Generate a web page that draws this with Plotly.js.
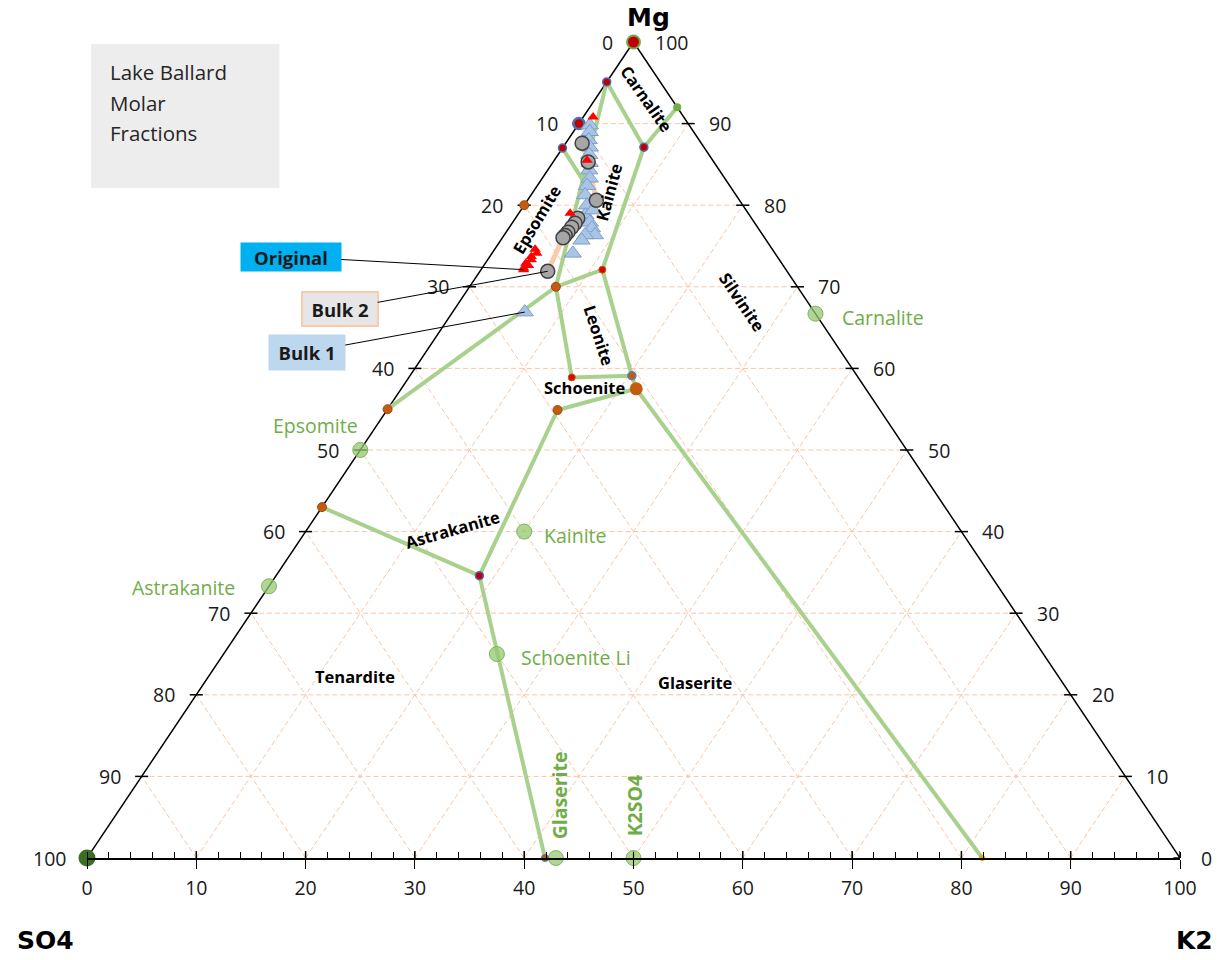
<!DOCTYPE html>
<html><head><meta charset="utf-8">
<script src="https://cdn.plot.ly/plotly-3.0.1.min.js"></script>
<style>html,body{margin:0;padding:0;background:#fff}#chart{width:1223px;height:960px}</style>
</head><body><div id="chart"></div>
<script>
// ---------- DATA (ternary molar %, SO4 = 100 - K2 - Mg) ----------
const axisTicks = [0,10,20,30,40,50,60,70,80,90,100];

// pure salt compositions (green points)
const phaseNames = ["Carnalite","Epsomite","Kainite","Astrakanite","Schoenite Li","Glaserite","K2SO4"];
const phaseK2 = [33.3, 0, 20, 0, 25, 42.9, 50];
const phaseMg = [66.7, 50, 40, 33.3, 25, 0, 0];

// invariant points of the phase diagram
const invK2 = [0, 7.4, 8, 0, 0, 3.8, 11.1, 7.9, 0, 14.9, 20.3, 21.5, 15.6, 0, 18.6, 41.9, 81.9, 0, 0, 0];
const invMg = [95.1, 87.1, 92, 90, 87, 83.1, 72.1, 70, 55, 58.9, 59.1, 57.5, 54.9, 43, 34.6, 0, 0, 80, 100, 0];
// phase boundaries (pairs of invariant point indices)
const boundaries = [[0,1],[1,2],[0,5],[4,5],[5,7],[1,6],[6,7],[6,10],[7,8],[7,9],[9,10],[10,11],[11,12],[12,14],[13,14],[14,15],[11,16]];

// Lake Ballard samples
const originalK2 = [0.9, 3.0, 4.7, 3.7, 4.1, 3.8, 4.0, 3.7, 4.1, 3.8, 3.9];
const originalMg = [90.8, 85.5, 79.0, 74.6, 74.1, 73.7, 73.3, 72.9, 72.6, 72.3, 72.1];

const bulk1K2 = [1.1, 1.5, 1.9, 2.45, 2.85, 3.4, 3.8, 4.35, 4.55, 4.95, 5.75, 6.2, 6.6, 7.05, 7.6, 8.3, 7.4, 7.4, 7.4, 6.6];
const bulk1Mg = [89.8, 89.0, 88.0, 87.1, 86.2, 85.2, 84.3, 83.3, 82.4, 81.25, 80.0, 78.8, 79.4, 77.9, 77.2, 76.35, 76.35, 75.7, 74.1, 66.9];

const bulk2K2 = [1.5, 3.2, 6.3, 5.7, 5.75, 5.7, 5.65, 5.6, 5.55, 6.2];
const bulk2Mg = [87.6, 85.3, 80.6, 78.4, 77.8, 77.3, 76.7, 76.3, 76.0, 71.9];

// field labels
const fieldNames = ["Carnalite","Kainite","Epsomite","Silvinite","Leonite","Schoenite","Astrakanite","Tenardite","Glaserite"];

// ---------- helpers ----------
const tx = (k, m) => k + m / 2;
const ty = (k, m) => m;
const X = (ks, ms) => ks.map((k, i) => tx(k, ms[i]));
const Y = (ks, ms) => ks.map((k, i) => ty(k, ms[i]));
const pick = (arr, idx) => idx.map(i => arr[i]);

const FONT = "Open Sans, Liberation Sans, sans-serif";
const traces = [];

// grid
const gx = [], gy = [];
for (let v = 10; v <= 90; v += 10) {
  gx.push(v / 2, 100 - v / 2, null); gy.push(v, v, null);                 // Mg const
  gx.push(v, v + (100 - v) / 2, null); gy.push(0, 100 - v, null);          // K2 const
  gx.push(100 - v, (100 - v) / 2, null); gy.push(0, 100 - v, null);        // SO4 const
}
traces.push({x: gx, y: gy, mode: 'lines', line: {color: '#F6C6A6', width: 1, dash: '5px,3px'}, hoverinfo: 'skip', cliponaxis: false});

// triangle sides
traces.push({x: [0, 50, 100], y: [0, 100, 0], mode: 'lines', line: {color: '#000', width: 1.5}, hoverinfo: 'skip', cliponaxis: false});

// side ticks
const sx = [], sy = [];
axisTicks.forEach(v => {
  const lxe = tx(0, v), rxe = tx(100 - v, v);
  sx.push(lxe - 0.6, lxe + 0.6, null, rxe - 0.6, rxe + 0.6, null); sy.push(v, v, null, v, v, null);
  sx.push(v, v, null); sy.push(0, 0.85, null);
});
traces.push({x: sx, y: sy, mode: 'lines', line: {color: '#000', width: 1.5}, hoverinfo: 'skip', cliponaxis: false});

// phase boundaries
const bx = [], by = [];
boundaries.forEach(([a, b]) => {
  bx.push(tx(invK2[a], invMg[a]), tx(invK2[b], invMg[b]), null);
  by.push(ty(invK2[a], invMg[a]), ty(invK2[b], invMg[b]), null);
});
traces.push({x: bx, y: by, mode: 'lines', line: {color: '#A9D18E', width: 4}, hoverinfo: 'skip', cliponaxis: false});

// Bulk 2 connecting line
traces.push({x: X(bulk2K2, bulk2Mg), y: Y(bulk2K2, bulk2Mg), mode: 'lines', line: {color: '#F8CBAD', width: 5}, hoverinfo: 'skip', cliponaxis: false});

// pure salt points
traces.push({x: X(phaseK2, phaseMg), y: Y(phaseK2, phaseMg), text: phaseNames, mode: 'markers',
  marker: {size: 15, color: 'rgba(150,200,115,0.75)', line: {color: '#7DB55A', width: 1}}, cliponaxis: false});

// invariant points grouped by style
function inv(idx, marker) {
  traces.push({x: pick(X(invK2, invMg), idx), y: pick(Y(invK2, invMg), idx), mode: 'markers', marker, cliponaxis: false});
}
inv([19], {size: 17, color: '#3C6E26'});
inv([2], {size: 8, color: '#70AD47'});
inv([18], {size: 13, color: '#C00000', line: {color: '#70AD47', width: 2}});
inv([0, 1, 4, 14], {size: 8, color: '#C00000', line: {color: '#4A6FB5', width: 1.5}});
inv([3], {size: 11, color: '#C00000', line: {color: '#4A6FB5', width: 2.5}});
inv([6, 9], {size: 7, color: '#E00000', line: {color: '#C55A11', width: 1}});
inv([7, 8, 12, 13, 17], {size: 9, color: '#C55A11', line: {color: '#9E4A12', width: 1}});
inv([10], {size: 8, color: '#C55A11', line: {color: '#5B7DB8', width: 1.5}});
inv([11], {size: 13, color: '#C55A11'});
inv([15], {size: 7, color: '#C55A11', line: {color: '#4A6FB5', width: 1}});
inv([16], {size: 6, color: '#E0A800'});

// samples
traces.push({name: 'Bulk 1', x: X(bulk1K2, bulk1Mg), y: Y(bulk1K2, bulk1Mg), mode: 'markers',
  marker: {symbol: 'triangle-up', size: 15, color: '#A9C5E6', line: {color: '#7E9EC8', width: 1}}, cliponaxis: false});
traces.push({name: 'Bulk 2', x: X(bulk2K2, bulk2Mg), y: Y(bulk2K2, bulk2Mg), mode: 'markers',
  marker: {size: 14, color: '#A6A6A6', line: {color: '#404040', width: 1.5}}, cliponaxis: false});
traces.push({name: 'Original', x: X(originalK2, originalMg), y: Y(originalK2, originalMg), mode: 'markers',
  marker: {symbol: 'triangle-up', size: 10, color: '#FF0000'}, cliponaxis: false});

// ---------- annotations ----------
const ann = [];
const tickFont = {family: FONT, size: 19.5, color: '#1A1A1A'};
axisTicks.forEach(v => {
  ann.push({x: tx(0, 100 - v), y: 100 - v, text: String(v), showarrow: false, xanchor: 'right', yanchor: 'middle', xshift: -19, font: tickFont});
  ann.push({x: tx(100 - v, v), y: v, text: String(v), showarrow: false, xanchor: 'left', yanchor: 'middle', xshift: 19, font: tickFont});
});

// corner titles (paper coordinates)
const titleFont = {family: 'DejaVu Sans, sans-serif', size: 25, color: '#000'};
const titleBase = {xref: 'paper', yref: 'paper', showarrow: false, xanchor: 'center', yanchor: 'middle', font: titleFont};
ann.push(Object.assign({x: 0.5133, y: 1.0306, text: '<b>Mg</b>'}, titleBase));
ann.push(Object.assign({x: -0.0384, y: -0.1005, text: '<b>SO4</b>'}, titleBase));
ann.push(Object.assign({x: 1.0137, y: -0.1005, text: '<b>K2</b>'}, titleBase));

// field labels (black, bold)
const fieldX = [51.2, 47.7, 41.1, 60.0, 46.8, 45.5, 33.4, 24.5, 55.7];
const fieldY = [93.1, 81.6, 78.3, 68.1, 64.1, 57.6, 40.2, 22.2, 21.5];
const fieldAng = [55, -75, -59, 56, 72, 0, -16, 0, 0];
fieldNames.forEach((t, i) => ann.push({x: fieldX[i], y: fieldY[i], text: '<b>' + t + '</b>', textangle: fieldAng[i],
  showarrow: false, font: {family: FONT, size: 16.5, color: '#000'}}));

// green salt labels
const greenFont = {family: FONT, size: 19.5, color: '#70AD47'};
ann.push({x: 68.9, y: 66.2, text: 'Carnalite', xanchor: 'left', showarrow: false, font: greenFont});
ann.push({x: 20.9, y: 53.0, text: 'Epsomite', showarrow: false, font: greenFont});
ann.push({x: 41.6, y: 39.5, text: 'Kainite', xanchor: 'left', showarrow: false, font: greenFont});
ann.push({x: 8.8, y: 33.1, text: 'Astrakanite', showarrow: false, font: greenFont});
ann.push({x: 39.5, y: 24.6, text: 'Schoenite Li', xanchor: 'left', showarrow: false, font: greenFont});
ann.push({x: 43.2, y: 7.7, text: '<b>Glaserite</b>', textangle: -90, showarrow: false, font: greenFont});
ann.push({x: 50.1, y: 6.4, text: '<b>K2SO4</b>', textangle: -90, showarrow: false, font: greenFont});

// callouts
const calloutFont = {family: FONT, size: 18.5, color: '#1A1A1A'};
const last = a => a[a.length - 1];
ann.push({x: tx(last(originalK2), last(originalMg)), y: last(originalMg), text: '<b>Original</b>', showarrow: true, arrowhead: 0,
  arrowwidth: 1, arrowcolor: '#000', ax: -233, ay: -13, bgcolor: '#00B0F0', width: 98, height: 26, font: calloutFont});
ann.push({x: tx(last(bulk2K2), last(bulk2Mg)), y: last(bulk2Mg), text: '<b>Bulk 2</b>', showarrow: true, arrowhead: 0,
  arrowwidth: 1, arrowcolor: '#000', ax: -208, ay: 38, bgcolor: '#E7E6E6', bordercolor: '#F8CBAD', borderwidth: 2, width: 72, height: 30, font: calloutFont});
ann.push({x: tx(last(bulk1K2), last(bulk1Mg)), y: last(bulk1Mg), text: '<b>Bulk 1</b>', showarrow: true, arrowhead: 0,
  arrowwidth: 1, arrowcolor: '#000', ax: -218, ay: 40, bgcolor: '#BDD7EE', width: 74, height: 33, font: calloutFont});

// info box
const boxLines = ['Lake Ballard', 'Molar', 'Fractions'];
const boxY = [96.3, 92.5, 88.85];
boxLines.forEach((t, i) => ann.push({x: 1.95, y: boxY[i], text: t, xanchor: 'left', showarrow: false,
  font: {family: FONT, size: 20.5, color: '#262626'}}));

const layout = {
  width: 1223, height: 960,
  margin: {l: 87, r: 43, t: 42, b: 102, pad: 0},
  paper_bgcolor: '#fff', plot_bgcolor: '#fff',
  showlegend: false,
  hovermode: false,
  xaxis: {range: [0, 100], tickmode: 'linear', tick0: 0, dtick: 10, ticks: 'outside', ticklen: 9, tickcolor: '#000', tickwidth: 1,
    showline: true, linecolor: '#000', linewidth: 1.5, showgrid: false, zeroline: false, automargin: false,
    tickfont: tickFont, ticklabelstandoff: 3,
    minor: {dtick: 2, tick0: 0, ticks: 'inside', ticklen: 6, tickcolor: '#000', tickwidth: 1, showgrid: false}},
  yaxis: {range: [0, 100], visible: false, automargin: false},
  shapes: [{type: 'rect', xref: 'x', yref: 'y', x0: 0.37, x1: 17.6, y0: 82.1, y1: 99.75, fillcolor: '#EDEDED', line: {width: 0}, layer: 'below'}],
  annotations: ann
};

Plotly.newPlot('chart', traces, layout, {staticPlot: true, displayModeBar: false});
</script>
</body></html>
